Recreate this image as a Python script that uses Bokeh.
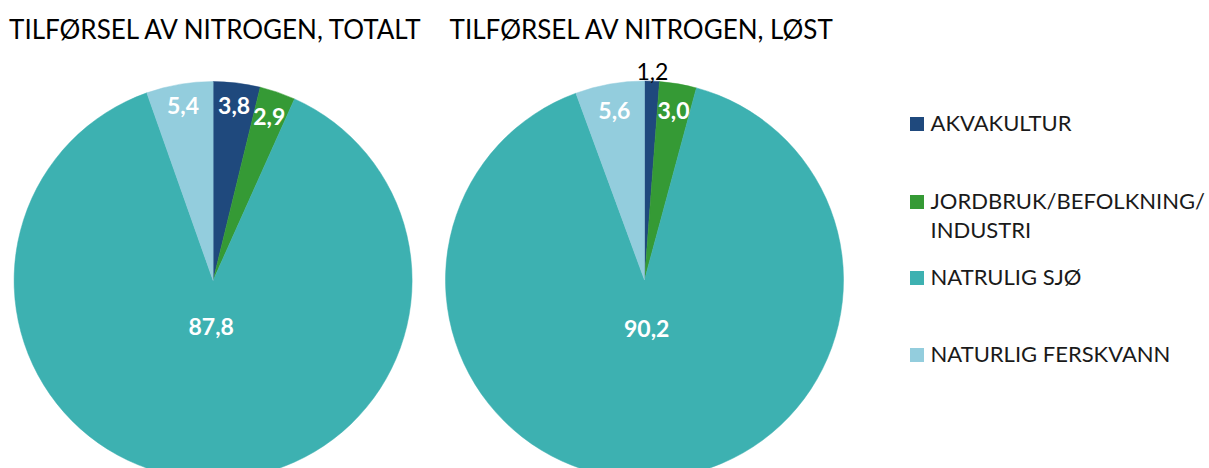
import numpy as np
from bokeh.plotting import figure
from bokeh.models import Range1d
from bokeh.core.properties import value
from bokeh.embed import file_html
from bokeh.resources import INLINE

# ---- data ----
categories = ["AKVAKULTUR", "JORDBRUK/BEFOLKNING/\nINDUSTRI", "NATRULIG SJØ", "NATURLIG FERSKVANN"]
totalt = [3.8, 2.9, 87.8, 5.4]
lost = [1.2, 3.0, 90.2, 5.6]
totalt_labels = ["3,8", "2,9", "87,8", "5,4"]
lost_labels = ["1,2", "3,0", "90,2", "5,6"]
titles = ["TILFØRSEL AV NITROGEN, TOTALT", "TILFØRSEL AV NITROGEN, LØST"]

# ---- style / layout ----
colors = ["#1F497D", "#359A35", "#3DB1B1", "#93CDDD"]
FONT = "Lato"
W, H = 1209, 468
TOP = H  # data y = TOP - screen y

p = figure(width=W, height=H, output_backend="svg", toolbar_location=None,
           x_range=Range1d(0, W), y_range=Range1d(0, H),
           min_border=0, outline_line_color=None)
p.axis.visible = False
p.grid.visible = False
p.background_fill_color = "white"
p.border_fill_color = "white"

R = 199
pies = [
    dict(vals=totalt, labels=totalt_labels, cx=212.6, cy=TOP - 280,
         lr=[176, 173, 46, 178], lcol=["white", "white", "white", "white"],
         lbold=[True, True, True, True], title_x=216),
    dict(vals=lost, labels=lost_labels, cx=644, cy=TOP - 279.5,
         lr=[209, 172, 49, 172], lcol=["black", "white", "white", "white"],
         lbold=[False, True, True, True], title_x=642),
]

for k, pie in enumerate(pies):
    v = np.array(pie["vals"], dtype=float)
    frac = v / v.sum()
    cum = np.concatenate([[0], np.cumsum(frac)])
    start = np.pi / 2 - cum[:-1] * 2 * np.pi
    end = np.pi / 2 - cum[1:] * 2 * np.pi
    p.wedge(x=pie["cx"], y=pie["cy"], radius=R, start_angle=start, end_angle=end,
            direction="clock", fill_color=colors, line_color=colors, line_width=0.5)
    mid = (start + end) / 2
    for i in range(len(v)):
        lx = pie["cx"] + pie["lr"][i] * np.cos(mid[i])
        ly = pie["cy"] + pie["lr"][i] * np.sin(mid[i])
        p.text(x=[lx], y=[ly], text=[pie["labels"][i]],
               text_font=value(FONT), text_font_size="23px",
               text_font_style="bold" if pie["lbold"][i] else "normal",
               text_color=pie["lcol"][i], text_align="center", text_baseline="middle")
    p.text(x=[pie["title_x"]], y=[TOP - 28], text=[titles[k]],
           text_font=value(FONT), text_font_size="26px", text_color="black",
           text_align="center", text_baseline="middle")

# ---- legend ----
leg_sq_x = 916.5
leg_txt_x = 930
leg_rows = [123.5, 201.5, 277.5, 354.5]
line_gap = 29
for i, name in enumerate(categories):
    sy = TOP - leg_rows[i]
    p.rect(x=leg_sq_x, y=sy, width=14, height=14, fill_color=colors[i], line_color=None)
    for j, line in enumerate(name.split("\n")):
        p.text(x=[leg_txt_x], y=[sy + 1.5 - j * line_gap], text=[line],
               text_font=value(FONT), text_font_size="22px", text_color="#1a1a1a",
               text_align="left", text_baseline="middle")

open("out.html", "w").write(file_html(p, INLINE))
